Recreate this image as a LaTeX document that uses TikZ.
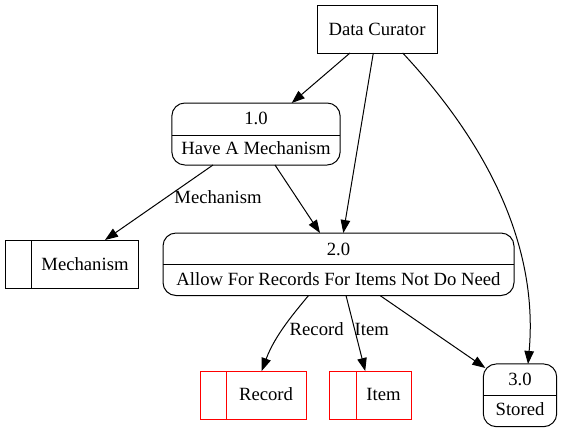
\documentclass[tikz,border=0pt]{standalone}
\usepackage{fontspec}
\setmainfont{Liberation Serif}
\usetikzlibrary{arrows.meta}
\begin{document}
\begin{tikzpicture}[x=1pt,y=-1pt,
  font=\fontsize{18.67}{22}\selectfont, line width=1pt,
  every node/.style={inner sep=0pt, outer sep=0pt},
  ent/.style={draw, rectangle, minimum width=120pt, minimum height=48pt},
  proc/.style={draw, rectangle, rounded corners=13pt},
  store/.style={draw, rectangle, minimum height=48pt},
  txt/.style={anchor=base},
  flow/.style={-{Triangle[length=13pt,width=9.5pt]}, line width=1pt}]
\useasboundingbox (0,0) rectangle (561,432);

% external entity
\node[ent] (dc) at (377,29) {Data Curator};

% process 1.0
\node[proc, minimum width=168.3pt, minimum height=62pt] (p1) at (256,134) {};
\draw (p1.west |- 0,135) -- (p1.east |- 0,135);
\node[txt] (p1n) at (256,124) {1.0};
\node[txt] (p1t) at (256,154) {Have A Mechanism};

% process 2.0
\node[proc, minimum width=351pt, minimum height=62.5pt] (p2) at (338.5,264.25) {};
\draw (p2.west |- 0,264.5) -- (p2.east |- 0,264.5);
\node[txt] (p2n) at (338.5,255) {2.0};
\node[txt] (p2t) at (338.5,285) {Allow For Records For Items Not Do Need};

% process 3.0
\node[proc, minimum width=73.4pt, minimum height=62.7pt] (p3) at (520,395.3) {};
\draw (p3.west |- 0,395) -- (p3.east |- 0,395);
\node[txt] (p3n) at (520,385) {3.0};
\node[txt] (p3t) at (520,415) {Stored};

% data stores
\node[store, minimum width=133pt] (ms) at (71.5,264) {};
\draw ([xshift=26.7pt]ms.north west) -- ([xshift=26.7pt]ms.south west);
\node[txt] (mst) at (85,270) {Mechanism};

\node[store, red, minimum width=106pt] (rec) at (253,395) {};
\draw[red] ([xshift=26.7pt]rec.north west) -- ([xshift=26.7pt]rec.south west);
\node[txt] (rect) at (266,400) {Record};

\node[store, red, minimum width=81.7pt] (item) at (370.2,395) {};
\draw[red] ([xshift=26.7pt]item.north west) -- ([xshift=26.7pt]item.south west);
\node[txt] (itemt) at (383.5,400) {Item};

% flows
\draw[flow] ([xshift=-27pt]dc.south) -- ([xshift=35.7pt]p1.north);
\draw[flow] ([xshift=-3.7pt]dc.south) -- ([xshift=4.8pt]p2.north);
\draw[flow] ([xshift=25.7pt]dc.south) .. controls (470,125) and (540,230) .. ([xshift=8pt]p3.north);
\draw[flow] ([xshift=19pt]p1.south) -- ([xshift=-18.5pt]p2.north);
\draw[flow] ([xshift=-43pt]p1.south) -- ([xshift=33.5pt]ms.north);
\node[txt] (lmech) at (218,203.3) {Mechanism};
\draw[flow] ([xshift=-30pt]p2.south) .. controls (295,312) and (275,335) .. ([xshift=8.7pt]rec.north);
\node[txt] (lrec) at (316.7,335) {Record};
\draw[flow] ([xshift=7.5pt]p2.south) -- ([xshift=-5pt]item.north);
\node[txt] (litem) at (371.7,335) {Item};
\draw[flow] ([xshift=41.5pt]p2.south) -- ([xshift=2pt,yshift=-4pt]p3.north west);
\end{tikzpicture}
\end{document}
